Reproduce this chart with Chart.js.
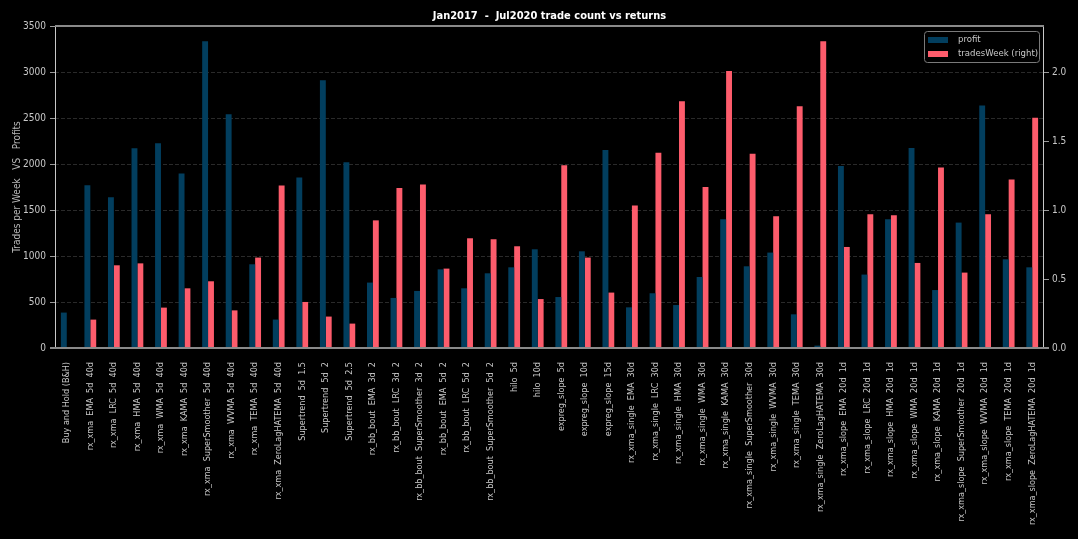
<!DOCTYPE html>
<html>
<head>
<meta charset="utf-8">
<script src="https://cdn.jsdelivr.net/npm/chart.js@4.4.1/dist/chart.umd.min.js"></script>
<style>
  html, body { margin: 0; padding: 0; background: #000; }
  #wrap { width: 1078px; height: 539px; }
</style>
</head>
<body>
<div id="wrap"><canvas id="myChart" width="1078" height="539"></canvas></div>
<script>
var labels = [
    'Buy and Hold (B&H)',
    'rx_xma  EMA  5d  40d', 'rx_xma  LRC  5d  40d', 'rx_xma  HMA  5d  40d', 'rx_xma  WMA  5d  40d',
    'rx_xma  KAMA  5d  40d', 'rx_xma  SuperSmoother  5d  40d', 'rx_xma  WVMA  5d  40d',
    'rx_xma  TEMA  5d  40d', 'rx_xma  ZeroLagHATEMA  5d  40d',
    'Supertrend  5d  1.5', 'Supertrend  5d  2', 'Supertrend  5d  2.5',
    'rx_bb_bout  EMA  3d  2', 'rx_bb_bout  LRC  3d  2', 'rx_bb_bout  SuperSmoother  3d  2',
    'rx_bb_bout  EMA  5d  2', 'rx_bb_bout  LRC  5d  2', 'rx_bb_bout  SuperSmoother  5d  2',
    'hilo  5d', 'hilo  10d',
    'expreg_slope  5d', 'expreg_slope  10d', 'expreg_slope  15d',
    'rx_xma_single  EMA  30d', 'rx_xma_single  LRC  30d', 'rx_xma_single  HMA  30d',
    'rx_xma_single  WMA  30d', 'rx_xma_single  KAMA  30d', 'rx_xma_single  SuperSmoother  30d',
    'rx_xma_single  WVMA  30d', 'rx_xma_single  TEMA  30d', 'rx_xma_single  ZeroLagHATEMA  30d',
    'rx_xma_slope  EMA  20d  1d', 'rx_xma_slope  LRC  20d  1d', 'rx_xma_slope  HMA  20d  1d',
    'rx_xma_slope  WMA  20d  1d', 'rx_xma_slope  KAMA  20d  1d', 'rx_xma_slope  SuperSmoother  20d  1d',
    'rx_xma_slope  WVMA  20d  1d', 'rx_xma_slope  TEMA  20d  1d', 'rx_xma_slope  ZeroLagHATEMA  20d  1d'
];
var profit = [385, 1769, 1638, 2171, 2225, 1896, 3334, 2540, 910, 309,
    1852, 2910, 2019, 711, 544, 620, 855, 649, 812, 877,
    1073, 554, 1051, 2152, 442, 595, 467, 772, 1399, 888,
    1037, 366, 26, 1978, 798, 1399, 2174, 630, 1363, 2635,
    964, 877];
var tradesWeek = [0.005, 0.206, 0.600, 0.614, 0.293, 0.433, 0.484, 0.273, 0.656, 1.178,
    0.334, 0.228, 0.177, 0.926, 1.161, 1.187, 0.576, 0.796, 0.789, 0.738,
    0.355, 1.325, 0.656, 0.402, 1.033, 1.417, 1.790, 1.168, 2.009, 1.410,
    0.955, 1.753, 2.225, 0.733, 0.970, 0.963, 0.617, 1.309, 0.547, 0.970,
    1.222, 1.671];
var leftTicks = [0, 500, 1000, 1500, 2000, 2500, 3000, 3500];
var rightTicks = [0, 0.5, 1.0, 1.5, 2.0];

var FONT = '"Liberation Sans Narrow", "DejaVu Sans Condensed", sans-serif';
var BLUE = '#023e5e';
var RED = '#fd5c6c';
var titleText = 'Jan2017  -  Jul2020 trade count vs returns';

// title, legend box and the axes frame, matplotlib style
var decor = {
    id: 'decor',
    afterDraw: function (chart) {
        var c = chart.ctx, a = chart.chartArea;
        c.save();
        c.fillStyle = '#fff';
        c.font = 'bold 11px ' + FONT;
        c.textAlign = 'center';
        c.textBaseline = 'middle';
        c.fillText(titleText, (a.left + a.right) / 2, 16);

        // frame
        c.strokeStyle = '#c8c8c8';
        c.lineWidth = 1;
        c.beginPath();
        c.moveTo(a.left + 0.5, a.top); c.lineTo(a.left + 0.5, a.bottom);
        c.moveTo(a.right - 0.5, a.top); c.lineTo(a.right - 0.5, a.bottom);
        c.stroke();
        c.strokeStyle = '#8a8a8a';
        c.lineWidth = 2;
        c.beginPath();
        c.moveTo(a.left, a.top); c.lineTo(a.right, a.top);
        c.moveTo(a.left - 5, a.bottom); c.lineTo(a.right + 5, a.bottom);
        c.stroke();

        // legend
        var bx = a.right - 120, by = a.top + 5, bw = 115, bh = 31;
        c.fillStyle = 'rgba(0,0,0,0.8)';
        c.strokeStyle = '#7a7a7a';
        c.lineWidth = 1;
        c.beginPath();
        if (c.roundRect) c.roundRect(bx + 0.5, by + 0.5, bw, bh, 3); else c.rect(bx + 0.5, by + 0.5, bw, bh);
        c.fill(); c.stroke();
        var items = [[chart.data.datasets[0].label, BLUE], [chart.data.datasets[1].label, RED]];
        c.font = '9.5px ' + FONT;
        c.textAlign = 'left';
        items.forEach(function (it, i) {
            var y = by + 9 + i * 14;
            c.fillStyle = it[1];
            c.fillRect(bx + 4, y - 3, 20, 6);
            c.fillStyle = '#c8c8c8';
            c.fillText(it[0], bx + 34, y);
        });
        c.restore();
    }
};

new Chart(document.getElementById('myChart'), {
    type: 'bar',
    data: {
        labels: labels,
        datasets: [{
            label: 'profit',
            data: profit,
            backgroundColor: BLUE,
            yAxisID: 'y',
            categoryPercentage: 0.5,
            barPercentage: 1.0
        }, {
            label: 'tradesWeek (right)',
            data: tradesWeek,
            backgroundColor: RED,
            yAxisID: 'y1',
            categoryPercentage: 0.5,
            barPercentage: 1.0
        }]
    },
    plugins: [decor],
    options: {
        responsive: false,
        animation: false,
        layout: { padding: { top: 26, left: 0, right: 0, bottom: 0 } },
        plugins: {
            legend: { display: false },
            title: { display: false },
            tooltip: { enabled: false }
        },
        scales: {
            x: {
                grid: { display: false },
                border: { display: false },
                ticks: {
                    autoSkip: false, maxRotation: 90, minRotation: 90,
                    padding: 6, color: '#c8c8c8', font: { family: FONT, size: 9 }
                },
                afterFit: function (s) { s.height = 191; }
            },
            y: {
                position: 'left',
                min: 0, max: 3500,
                afterBuildTicks: function (s) { s.ticks = leftTicks.map(function (v) { return { value: v }; }); },
                grid: { color: '#2a2a2a', lineWidth: 1, tickColor: '#9a9a9a', tickLength: 5, tickBorderDash: [] },
                border: { display: false, dash: [4, 2] },
                ticks: {
                    padding: 4, color: '#c8c8c8', font: { family: FONT, size: 10 },
                    callback: function (v) { return String(v); }
                },
                title: {
                    display: true, text: 'Trades per Week   VS   Profits',
                    color: '#b8b8b8', font: { family: FONT, size: 10 }, padding: { top: 11, bottom: 0 }
                },
                afterFit: function (s) { s.width = 55; }
            },
            y1: {
                position: 'right',
                min: 0, max: 2.336,
                afterBuildTicks: function (s) { s.ticks = rightTicks.map(function (v) { return { value: v }; }); },
                grid: { drawOnChartArea: false, tickColor: '#9a9a9a', tickLength: 5 },
                border: { display: false },
                ticks: {
                    padding: 3, color: '#c8c8c8', font: { family: FONT, size: 10 },
                    callback: function (v) { return Number(v).toFixed(1); }
                },
                afterFit: function (s) { s.width = 34; }
            }
        }
    }
});
</script>
</body>
</html>
